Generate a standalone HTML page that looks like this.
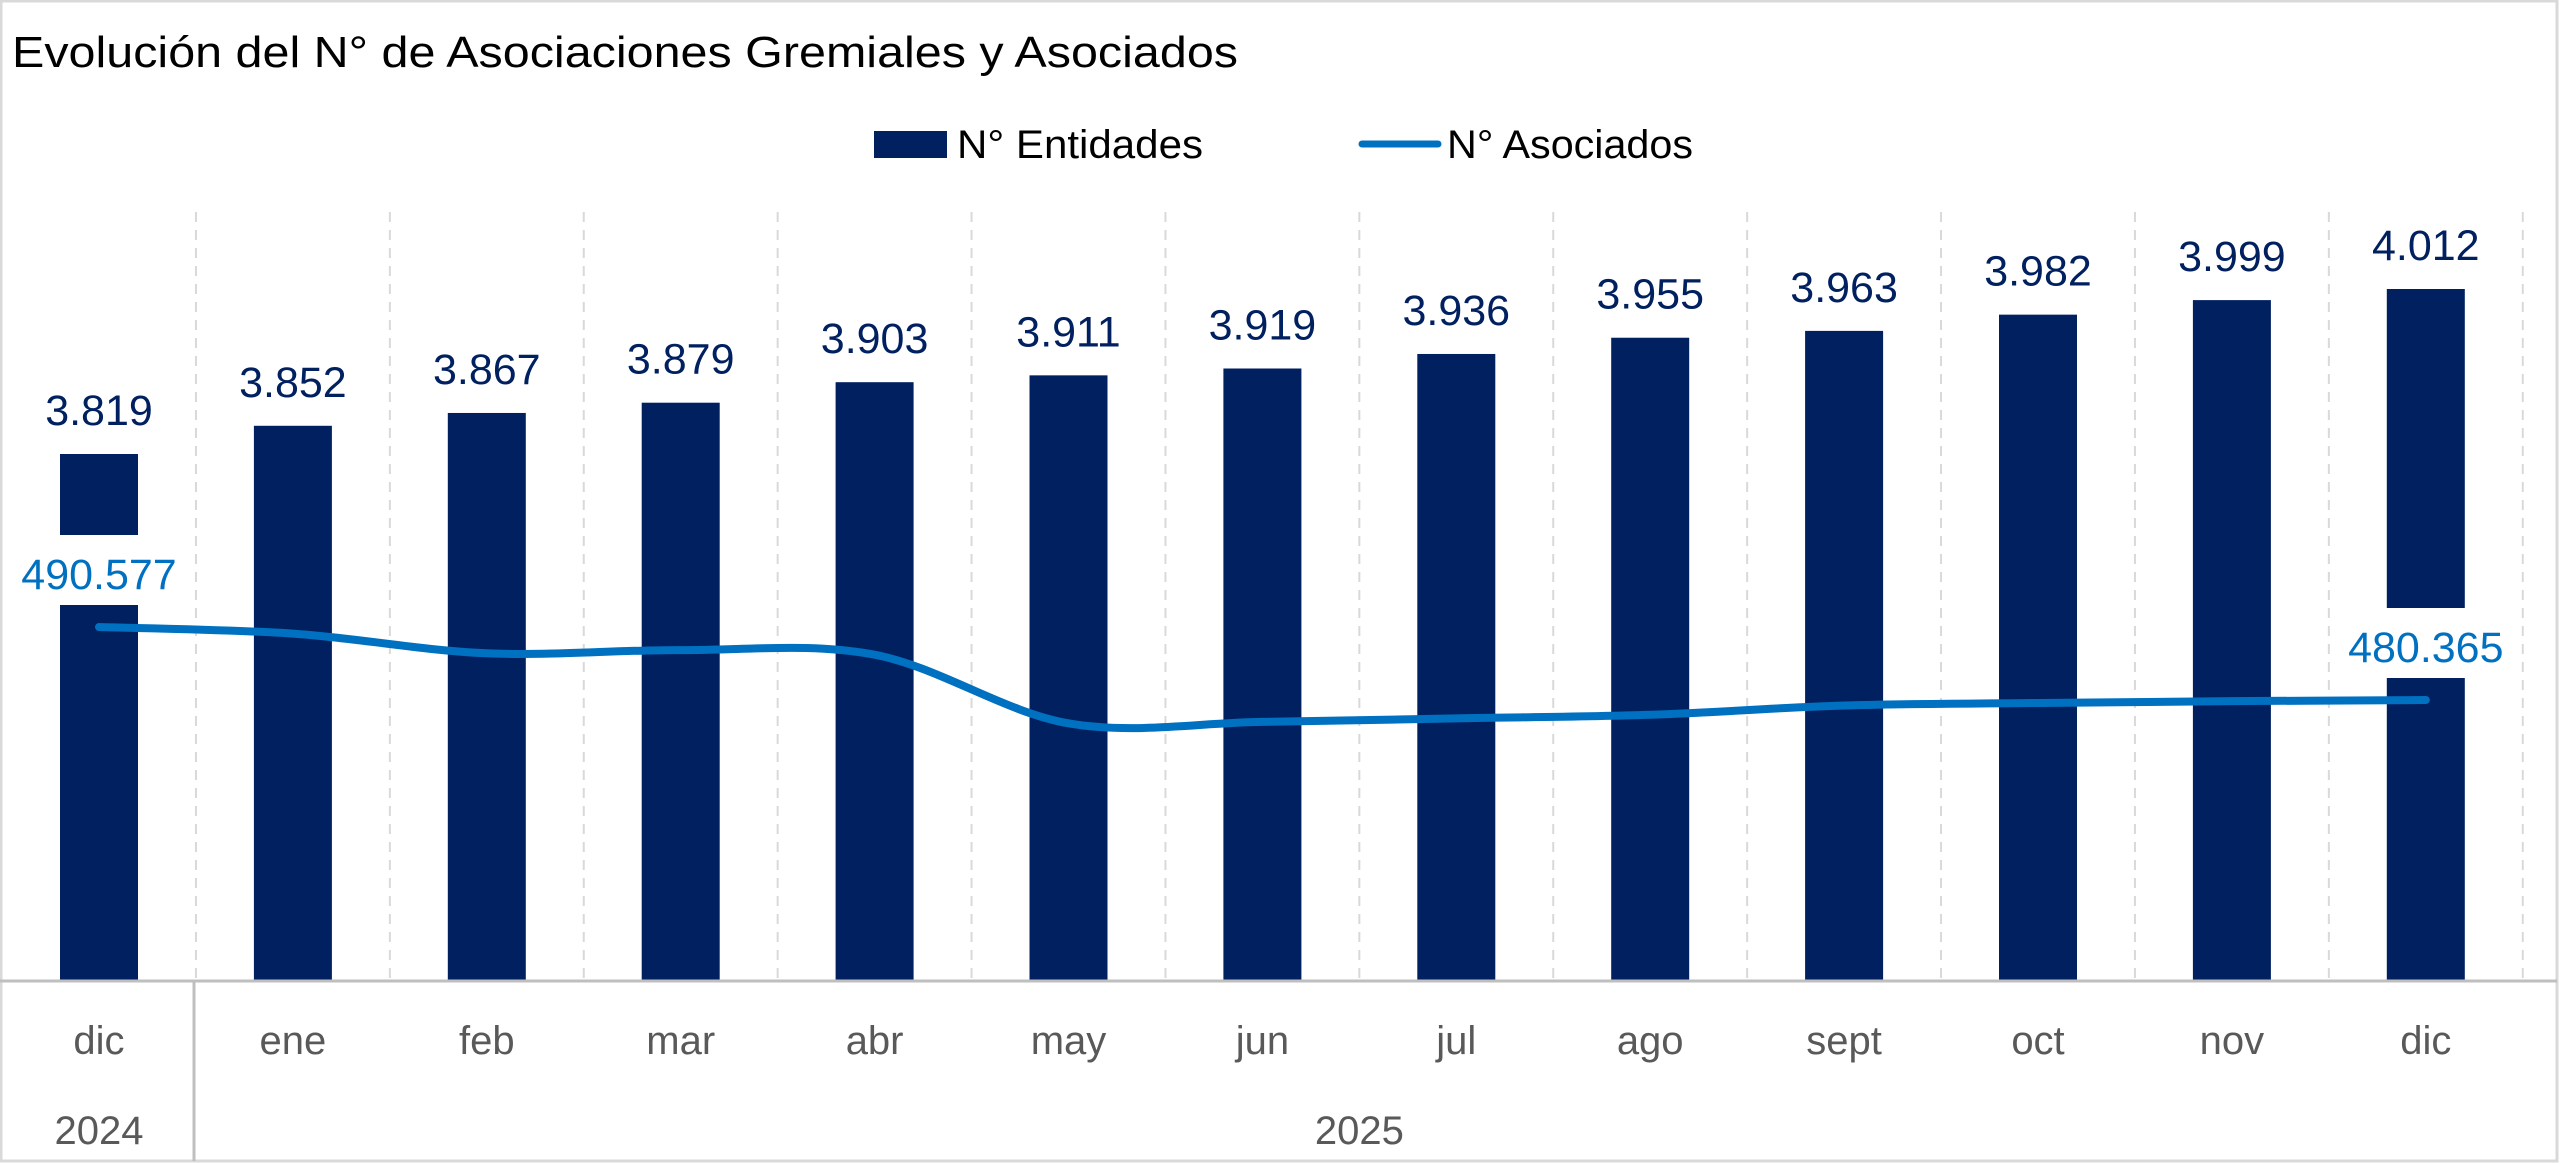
<!DOCTYPE html>
<html><head><meta charset="utf-8"><style>
html,body{margin:0;padding:0;background:#fff;}
svg{display:block;font-family:"Liberation Sans",sans-serif;}
</style></head><body>
<svg id="chart" width="2560" height="1163" viewBox="0 0 2560 1163" xmlns="http://www.w3.org/2000/svg">
<rect x="1" y="1" width="2556" height="1160" fill="#fff" stroke="#d9d9d9" stroke-width="3"/>
<text x="12" y="67" font-size="44" fill="#000" textLength="1226" lengthAdjust="spacingAndGlyphs">Evolución del N° de Asociaciones Gremiales y Asociados</text>
<g>
<rect x="874" y="131" width="73" height="27" fill="#002060"/>
<text x="957" y="158" font-size="40" fill="#000" textLength="246" lengthAdjust="spacingAndGlyphs">N° Entidades</text>
<line x1="1362" y1="144" x2="1438" y2="144" stroke="#0070c0" stroke-width="7" stroke-linecap="round"/>
<text x="1447" y="158" font-size="40" fill="#000" textLength="246" lengthAdjust="spacingAndGlyphs">N° Asociados</text>
</g>
<g id="grid"></g>
<g id="bars"></g>
<g id="line"></g>
<g id="labels"></g>
<g id="axis"></g>
</svg>
<script>
const categories = ["dic","ene","feb","mar","abr","may","jun","jul","ago","sept","oct","nov","dic"];
const entidades = [3819,3852,3867,3879,3903,3911,3919,3936,3955,3963,3982,3999,4012];
const entidadesLabels = ["3.819","3.852","3.867","3.879","3.903","3.911","3.919","3.936","3.955","3.963","3.982","3.999","4.012"];
const asociados = [490577,489650,486900,487350,486700,477100,477300,477800,478300,479600,479950,480200,480365];
const asociadosLabels = ["490.577","","","","","","","","","","","","480.365"];
const years = ["2024","2025"];

const NS="http://www.w3.org/2000/svg";
const plotTop=212, baseY=981, x0=99, step=193.9, barW=78;
function xPos(i){return x0+i*step;}
function yBar(v){return 454-(v-3819)*(165/193);}
function yLine(v){return 627+(490577-v)*(73/10212);}
function mk(tag,attrs,parent){const e=document.createElementNS(NS,tag);for(const k in attrs)e.setAttribute(k,attrs[k]);document.getElementById(parent).appendChild(e);return e;}

for(let i=0;i<=categories.length;i++){
  const x=x0-step/2+i*step;
  if(x<10||x>2550)continue;
  const l=mk('line',{x1:x,y1:plotTop,x2:x,y2:baseY,stroke:'#d9d9d9','stroke-width':2,'stroke-dasharray':'10,8'},'grid');
  
  
}
entidades.forEach((v,i)=>{
  const y=yBar(v);
  const r=mk('rect',{x:xPos(i)-barW/2,y:y,width:barW,height:baseY-y,fill:'#002060'},'bars');
  
  
  const t=mk('text',{x:xPos(i),y:y-29,'font-size':43,fill:'#002060','text-anchor':'middle'},'labels');
  t.textContent=entidadesLabels[i];
  
  
});
asociados.forEach((v,i)=>{
  if(!asociadosLabels[i])return;
  const y=yLine(v);
  const bg=mk('rect',{x:xPos(i)-barW/2-2,y:y-92,width:barW+4,height:70,fill:'#fff'},'labels');
  
  
  const t=mk('text',{x:xPos(i),y:y-38,'font-size':43,fill:'#0070c0','text-anchor':'middle'},'labels');
  t.textContent=asociadosLabels[i];
  
  
});
const pts=asociados.map((v,i)=>[xPos(i),yLine(v)]);
let d='M'+pts[0][0]+','+pts[0][1];
for(let i=0;i<pts.length-1;i++){
  const p0=pts[Math.max(0,i-1)],p1=pts[i],p2=pts[i+1],p3=pts[Math.min(pts.length-1,i+2)];
  const t=1/6;
  d+=' C'+(p1[0]+(p2[0]-p0[0])*t)+','+(p1[1]+(p2[1]-p0[1])*t)+' '+(p2[0]-(p3[0]-p1[0])*t)+','+(p2[1]-(p3[1]-p1[1])*t)+' '+p2[0]+','+p2[1];
}
const path=mk('path',{d:d,fill:'none',stroke:'#0070c0','stroke-width':8,'stroke-linecap':'round'},'line');


const ax=mk('line',{x1:0,y1:baseY,x2:2557,y2:baseY,stroke:'#bfbfbf','stroke-width':3},'axis');


const sep=mk('line',{x1:194,y1:baseY,x2:194,y2:1161,stroke:'#bfbfbf','stroke-width':3},'axis');


categories.forEach((c,i)=>{
  const t=mk('text',{x:xPos(i),y:1054,'font-size':40,fill:'#595959','text-anchor':'middle'},'axis');
  t.textContent=c;
  
  
});
const y1=mk('text',{x:xPos(0),y:1144,'font-size':40,fill:'#595959','text-anchor':'middle'},'axis');
y1.textContent=years[0];


const y2=mk('text',{x:(xPos(1)+xPos(12))/2,y:1144,'font-size':40,fill:'#595959','text-anchor':'middle'},'axis');
y2.textContent=years[1];


</script>
</body></html>
